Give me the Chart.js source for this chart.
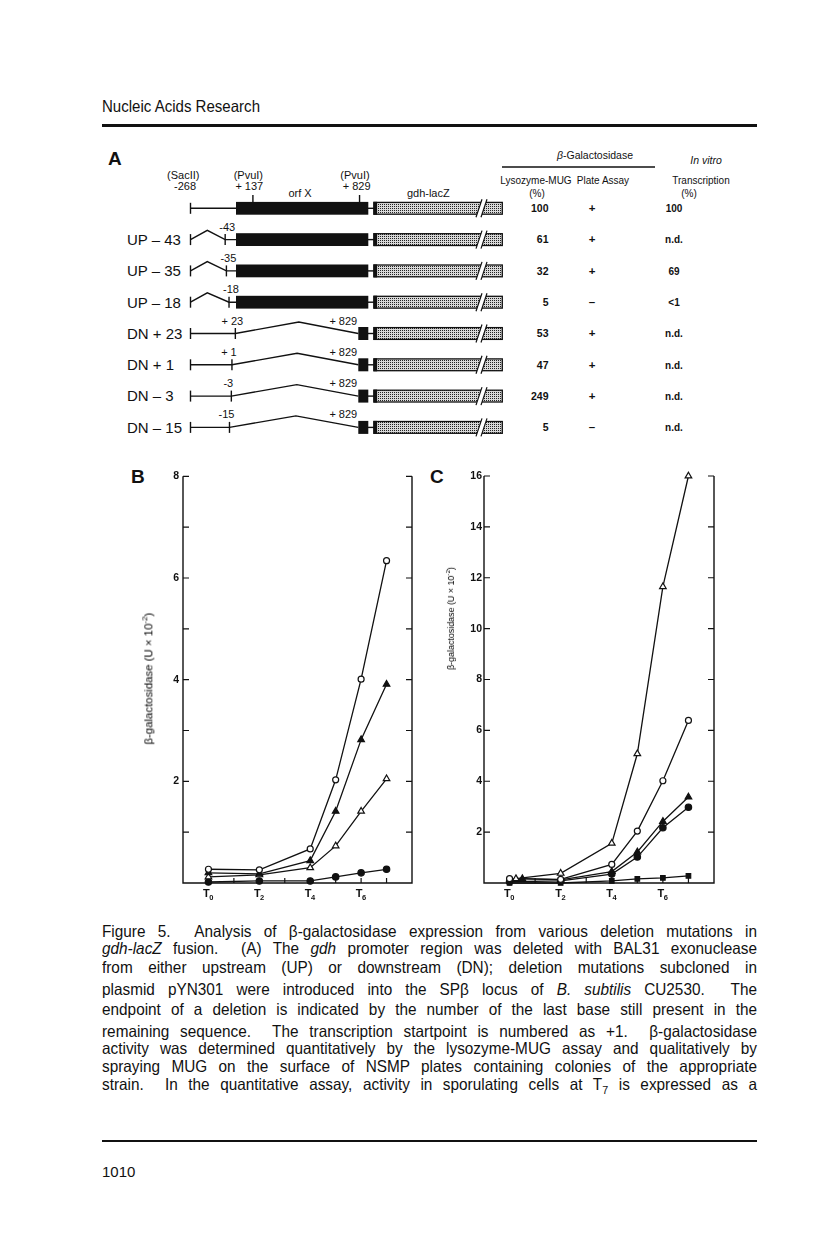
<!DOCTYPE html>
<html>
<head>
<meta charset="utf-8">
<script src="https://cdn.jsdelivr.net/npm/chart.js@4.4.1/dist/chart.umd.min.js"></script>
<style>
  body { margin: 0; background: #fff; }
  #page { position: relative; width: 816px; height: 1242px; overflow: hidden;
          font-family: "Liberation Sans", Arial, sans-serif; color: #111; }
  .abs { position: absolute; white-space: pre; transform-origin: 0 0; }
  .cap { position: absolute; left: 102px; white-space: pre; font-size: 16.5px; line-height: 20px;
         transform-origin: 0 0; display: inline-block; }
  .ytitle { position: absolute; white-space: nowrap; transform-origin: 50% 50%; line-height: 1; color: #000; }
  .ytitle sup { font-size: 70%; }
  .rule { position: absolute; background: #111; }
  canvas { position: absolute; }
  #diagram { position: absolute; left: 0; top: 0; }
</style>
</head>
<body>
<div id="page">
  <div class="abs" id="runhead" style="left:102px;top:96px;font-size:16.5px;line-height:20px;">Nucleic Acids Research</div>
  <div class="rule" style="left:102px;top:124px;width:655px;height:2.5px;"></div>
  <svg id="diagram" width="816" height="470"></svg>

  <div class="abs" style="left:131px;top:467px;font-size:19px;font-weight:bold;line-height:20px;">B</div>
  <div class="abs" style="left:430px;top:467px;font-size:19px;font-weight:bold;line-height:20px;">C</div>
  <canvas id="chartB" width="310" height="440" style="left:120px;top:466px;"></canvas>
  <canvas id="chartC" width="300" height="440" style="left:430px;top:466px;"></canvas>
  <div class="ytitle" id="ytB">β-galactosidase (U × 10<sup>-2</sup>)</div>
  <div class="ytitle" id="ytC">β-galactosidase (U × 10<sup>-2</sup>)</div>

  <div class="rule" style="left:102px;top:1140px;width:655px;height:1.5px;"></div>
  <div class="abs" style="left:102px;top:1162px;font-size:15px;line-height:20px;">1010</div>
</div>

<script>
// ---- panel B / C data (time after sporulation, T0..T7) ----
var xB = [0, 2, 4, 5, 6, 7];
var B_openCircle = [0.27, 0.26, 0.67, 2.03, 4.01, 6.34];
var B_fillTriangle = [0.20, 0.18, 0.44, 1.41, 2.82, 3.91];
var B_openTriangle = [0.12, 0.16, 0.30, 0.73, 1.41, 2.05];
var B_fillCircle = [0.02, 0.04, 0.04, 0.12, 0.20, 0.27];

var xC = [0, 2, 4, 5, 6, 7];
var xC_openTriangle = [0.25, 2, 4, 5, 6, 7];
var xC_fillTriangle = [0.5, 2, 4, 5, 6, 7];
var C_openTriangle = [0.17, 0.38, 1.56, 5.08, 11.65, 16.0];
var C_openCircle = [0.17, 0.14, 0.73, 2.04, 4.02, 6.39];
var C_fillTriangle = [0.17, 0.12, 0.45, 1.22, 2.42, 3.38];
var C_fillCircle = [0.05, 0.08, 0.35, 1.02, 2.17, 2.98];
var C_fillSquare = [0.0, 0.0, 0.08, 0.16, 0.20, 0.28];

var timeTicks = [0, 2, 4, 6];   // labelled as T0, T2, T4, T6

// ---- panel A data ----
var rowNames = ['', 'UP – 43', 'UP – 35', 'UP – 18', 'DN + 23', 'DN + 1', 'DN – 3', 'DN – 15'];
var rowKind = ['wt', 'up', 'up', 'up', 'dn', 'dn', 'dn', 'dn'];
var endpoints = [null, -43, -35, -18, 23, 1, -3, -15];
var endLabels = ['', '-43', '-35', '-18', '+ 23', '+ 1', '-3', '-15'];
var lysozymeMUG = ['100', '61', '32', '5', '53', '47', '249', '5'];
var plateAssay = ['+', '+', '+', '–', '+', '+', '+', '–'];
var inVitro = ['100', 'n.d.', '69', '<1', 'n.d.', 'n.d.', 'n.d.', 'n.d.'];

var captionLines = [
  'Figure 5.  Analysis of β-galactosidase expression from various deletion mutations in',
  '<i>gdh-lacZ</i> fusion.  (A) The <i>gdh</i> promoter region was deleted with BAL31 exonuclease',
  'from either upstream (UP) or downstream (DN); deletion mutations subcloned in',
  'plasmid pYN301 were introduced into the SPβ locus of <i>B. subtilis</i> CU2530.  The',
  'endpoint of a deletion is indicated by the number of the last base still present in the',
  'remaining sequence.  The transcription startpoint is numbered as +1.  β-galactosidase',
  'activity was determined quantitatively by the lysozyme-MUG assay and qualitatively by',
  'spraying MUG on the surface of NSMP plates containing colonies of the appropriate',
  'strain.  In the quantitative assay, activity in sporulating cells at T<sub style="font-size:70%">7</sub> is expressed as a'
];
var captionBaselines = [936.7, 954, 973, 995, 1015, 1037, 1054, 1072, 1090];

var page = document.getElementById('page');

// ---- running head ----
(function () {
  var h = document.getElementById('runhead');
  var w = h.getBoundingClientRect().width;
  h.style.transform = 'scaleX(' + (158 / w) + ')';
})();

// ---- caption, justified to the column ----
var colW = 655;
captionLines.forEach(function (html, i) {
  var d = document.createElement('div');
  d.className = 'cap';
  d.innerHTML = html;
  d.style.top = (captionBaselines[i] - 15.7) + 'px';
  page.appendChild(d);
  var w = d.getBoundingClientRect().width;
  var n = (d.textContent.match(/ /g) || []).length;
  var s = Math.min(0.93, colW / w);
  var extra = (colW - w * s) / s / n;
  d.style.wordSpacing = extra + 'px';
  d.style.transform = 'scaleX(' + s + ')';
});

// ---- y axis titles ----
function placeTitle(id, cx, cy, len) {
  var el = document.getElementById(id);
  el.style.fontSize = '10px';
  var w = el.getBoundingClientRect().width;
  el.style.fontSize = (10 * len / w) + 'px';
  var r = el.getBoundingClientRect();
  el.style.left = (cx - r.width / 2) + 'px';
  el.style.top = (cy - r.height / 2) + 'px';
  el.style.transform = 'rotate(-90deg)';
}
placeTitle('ytB', 147.5, 679, 132);
placeTitle('ytC', 450, 618, 103);

// ---- panel A schematic ----
function bx(b) { return 190.5 + (b + 268) * 0.1541; }
function t(x, y, s, size, anchor, extra) {
  return '<text x="' + x + '" y="' + y + '" font-size="' + size + '" text-anchor="' + (anchor || 'middle') + '" ' + (extra || '') + '>' + s + '</text>';
}
(function () {
  var svg = '<defs><pattern id="dots" width="2" height="2" patternUnits="userSpaceOnUse">' +
    '<rect width="2" height="2" fill="#d8d8d8"/><rect width="1" height="1" fill="#222"/></pattern></defs>';
  svg += '<g font-family="Liberation Sans, Arial, sans-serif" fill="#111">';
  svg += t(108, 165, 'A', 19, 'start', 'font-weight="bold"');
  // top annotations
  svg += t(183.3, 179, '(SacII)', 11) + t(185, 190, '-268', 11);
  svg += t(248.3, 179, '(PvuI)', 11) + t(249.3, 190, '+ 137', 11);
  svg += t(355, 179, '(PvuI)', 11) + t(356.7, 190, '+ 829', 11);
  svg += t(300, 197, 'orf X', 11) + t(428.3, 197, 'gdh-lacZ', 11);
  svg += '</g><g stroke="#111" stroke-width="1.4" fill="none">';
  svg += '<line x1="' + bx(137) + '" y1="195" x2="' + bx(137) + '" y2="202"/>';
  svg += '<line x1="' + bx(829) + '" y1="195" x2="' + bx(829) + '" y2="202"/>';
  svg += '</g>';

  rowNames.forEach(function (name, i) {
    var y = 208.3 + i * 31.3;
    var g = '<g stroke="#111" stroke-width="1.4" fill="none">';
    var txt = '<g font-family="Liberation Sans, Arial, sans-serif" fill="#111">';
    var x0 = bx(-268);
    g += '<line x1="' + x0 + '" y1="' + (y - 5.5) + '" x2="' + x0 + '" y2="' + (y + 5.5) + '"/>';
    if (rowKind[i] === 'wt') {
      g += '<line x1="' + x0 + '" y1="' + y + '" x2="236" y2="' + y + '"/>';
    } else if (rowKind[i] === 'up') {
      var ex = bx(endpoints[i]);
      g += '<polyline points="' + x0 + ',' + y + ' 207.3,' + (y - 9.3) + ' ' + ex + ',' + y + ' 236,' + y + '"/>';
      g += '<line x1="' + ex + '" y1="' + (y - 5.5) + '" x2="' + ex + '" y2="' + (y + 5.5) + '"/>';
      txt += t(ex + 2, y - 9, endLabels[i], 11);
    } else {
      var ex2 = bx(endpoints[i]);
      var pk = (ex2 + 358.3) / 2 + 2;
      g += '<polyline points="' + x0 + ',' + y + ' ' + ex2 + ',' + y + ' ' + pk + ',' + (y - 11.5) + ' 358.3,' + y + '"/>';
      g += '<line x1="' + ex2 + '" y1="' + (y - 5.5) + '" x2="' + ex2 + '" y2="' + (y + 5.5) + '"/>';
      txt += t(ex2 - 3, y - 9, endLabels[i], 11) + t(343.3, y - 9, '+ 829', 11);
    }
    g += '<line x1="368" y1="' + y + '" x2="374" y2="' + y + '"/>';
    g += '</g>';
    if (rowKind[i] === 'dn') {
      g += '<rect x="358.3" y="' + (y - 6.5) + '" width="10" height="13" fill="#111"/>';
    } else {
      g += '<rect x="236" y="' + (y - 6.4) + '" width="132.3" height="12.8" fill="#111"/>';
    }
    g += '<rect x="374" y="' + (y - 5.9) + '" width="128.3" height="11.8" fill="url(#dots)" stroke="#111" stroke-width="1.3"/>';
    g += '<rect x="373.3" y="' + (y - 6.5) + '" width="3.8" height="13" fill="#111"/>';
    g += '<polygon points="476,' + (y + 9) + ' 482,' + (y - 9) + ' 487,' + (y - 9) + ' 481,' + (y + 9) + '" fill="#fff" stroke="none"/>';
    g += '<g stroke="#111" stroke-width="1.2"><line x1="476" y1="' + (y + 9) + '" x2="482" y2="' + (y - 9) + '"/>' +
         '<line x1="481" y1="' + (y + 9) + '" x2="487" y2="' + (y - 9) + '"/></g>';
    txt += t(127, y + 5.3, name, 15, 'start');
    // table values
    txt += t(548.5, y + 3.8, lysozymeMUG[i], 10.5, 'end', 'font-weight="bold"');
    txt += t(592, y + 3.8, plateAssay[i], 11.5, 'middle', 'font-weight="bold"');
    txt += t(674, y + 3.8, inVitro[i], 10, 'middle', 'font-weight="bold"');
    txt += '</g>';
    svg += g + txt;
  });

  // table header
  svg += '<g font-family="Liberation Sans, Arial, sans-serif" fill="#111">';
  svg += t(595, 159, '<tspan font-style="italic">β</tspan>-Galactosidase', 10.5);
  svg += t(706, 164, 'In vitro', 10.5, 'middle', 'font-style="italic"');
  svg += t(536, 184, 'Lysozyme-MUG', 10) + t(537, 196.5, '(%)', 10);
  svg += t(603, 184, 'Plate Assay', 10);
  svg += t(701, 184, 'Transcription', 10) + t(689, 196.5, '(%)', 10);
  svg += '</g><line x1="502" y1="167" x2="655" y2="167" stroke="#111" stroke-width="1.4"/>';
  document.getElementById('diagram').innerHTML = svg;
})();

// ---- charts ----
var framePlugin = {
  id: 'frame',
  beforeDatasetsDraw: function (chart, args, opts) {
    var ctx = chart.ctx, a = chart.chartArea, x = chart.scales.x, y = chart.scales.y;
    ctx.save();
    ctx.strokeStyle = '#111';
    ctx.lineWidth = 1.4;
    ctx.beginPath();
    ctx.moveTo(a.left, a.top); ctx.lineTo(a.left, a.bottom);
    ctx.lineTo(a.right, a.bottom); ctx.lineTo(a.right, a.top);
    ctx.stroke();
    ctx.lineWidth = 1.2;
    ctx.beginPath();
    for (var v = opts.leftStep; v <= y.max; v += opts.leftStep) {
      var py = y.getPixelForValue(v);
      ctx.moveTo(a.left, py); ctx.lineTo(a.left + 6, py);
    }
    for (var w = opts.rightStep; w <= y.max; w += opts.rightStep) {
      var qy = y.getPixelForValue(w);
      ctx.moveTo(a.right, qy); ctx.lineTo(a.right - 6, qy);
    }
    for (var k = 0; k <= 7; k++) {
      var px = x.getPixelForValue(k);
      ctx.moveTo(px, a.bottom); ctx.lineTo(px, a.bottom - 5);
    }
    ctx.stroke();

    // T0, T2 ... labels with a real subscript
    ctx.fillStyle = '#111';
    ctx.textBaseline = 'alphabetic';
    ctx.textAlign = 'left';
    timeTicks.forEach(function (tv) {
      var cx = x.getPixelForValue(tv);
      ctx.font = 'bold 11px "Liberation Sans"';
      var wT = ctx.measureText('T').width;
      ctx.font = 'bold 7.5px "Liberation Sans"';
      var wd = ctx.measureText(String(tv)).width;
      var sx = cx - (wT + wd) / 2;
      ctx.font = 'bold 11px "Liberation Sans"';
      ctx.fillText('T', sx, a.bottom + 14);
      ctx.font = 'bold 7.5px "Liberation Sans"';
      ctx.fillText(String(tv), sx + wT - 0.5, a.bottom + 17);
    });
    ctx.restore();
  }
};

function series(xs, ys, style, filled, radius) {
  return {
    data: xs.map(function (xv, i) { return { x: xv, y: ys[i] }; }),
    borderColor: '#111',
    borderWidth: 1.3,
    pointStyle: style,
    pointRadius: radius,
    pointBorderWidth: 1.2,
    pointBackgroundColor: filled ? '#111' : '#fff',
    pointBorderColor: '#111',
    tension: 0,
    clip: false
  };
}

function makeChart(id, datasets, yMax, leftStep, rightStep, yAxisW, padRight, labelPad) {
  return new Chart(document.getElementById(id), {
    type: 'line',
    data: { datasets: datasets },
    plugins: [framePlugin],
    options: {
      responsive: false,
      animation: false,
      layout: { padding: { top: 10, right: padRight, left: 0, bottom: 0 } },
      plugins: { legend: { display: false }, tooltip: { enabled: false }, frame: { leftStep: leftStep, rightStep: rightStep } },
      scales: {
        x: {
          type: 'linear', min: -1, max: 8,
          grid: { display: false, drawTicks: false }, border: { display: false },
          afterFit: function (s) { s.height = 23; },
          ticks: {
            stepSize: 1, autoSkip: false, maxRotation: 0,
            callback: function () { return ''; }
          }
        },
        y: {
          min: 0, max: yMax,
          grid: { display: false, drawTicks: false }, border: { display: false },
          afterFit: function (s) { s.width = yAxisW; },
          ticks: {
            stepSize: leftStep, autoSkip: false, padding: labelPad, color: '#111',
            font: { family: 'Liberation Sans', size: 10.5, weight: 'bold' },
            callback: function (v) { return (v > 0 && v % 2 === 0) ? String(v) : ''; }
          }
        }
      }
    }
  });
}

makeChart('chartB', [
  series(xB, B_openCircle, 'circle', false, 3),
  series(xB, B_fillTriangle, 'triangle', true, 3.8),
  series(xB, B_openTriangle, 'triangle', false, 3.8),
  series(xB, B_fillCircle, 'circle', true, 3.2)
], 8, 1, 1, 63, 18, 4);

makeChart('chartC', [
  series(xC_openTriangle, C_openTriangle, 'triangle', false, 3.8),
  series(xC, C_openCircle, 'circle', false, 3),
  series(xC_fillTriangle, C_fillTriangle, 'triangle', true, 3.8),
  series(xC, C_fillCircle, 'circle', true, 3.2),
  series(xC, C_fillSquare, 'rect', true, 3.2)
], 16, 2, 2, 54, 16, 2);
</script>
</body>
</html>
